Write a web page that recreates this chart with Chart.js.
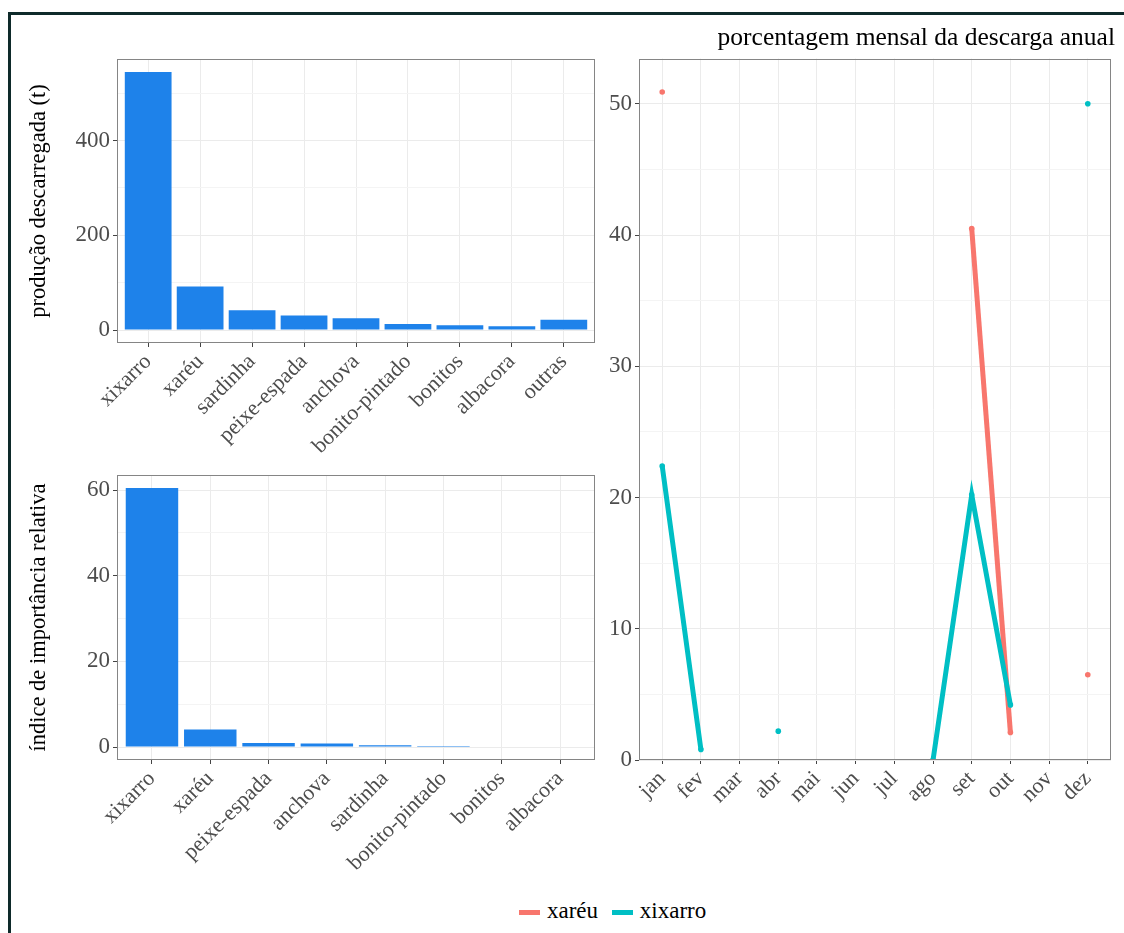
<!DOCTYPE html>
<html>
<head>
<meta charset="utf-8">
<script src="https://cdn.jsdelivr.net/npm/chart.js@4/dist/chart.umd.min.js"></script>
<style>
  body { margin: 0; background: #fff; }
  #page { position: relative; width: 1124px; height: 933px; overflow: hidden; background: #fff; }
  #frame { position: absolute; left: 8px; top: 12px; width: 1200px; height: 1000px;
           border-top: 3px solid #0e2a2a; border-left: 3px solid #0e2a2a; }
  canvas { position: absolute; }
  #legend { position: absolute; left: 519px; top: 897px; font: 23px "Liberation Serif", serif;
            color: #000; white-space: nowrap; line-height: 28px; }
  #legend .key { display: inline-block; width: 21px; height: 5px; vertical-align: middle; margin-right: 7px; }
  #legend .item { margin-right: 8px; }
</style>
</head>
<body>
<div id="page">
  <div id="frame"></div>
  <canvas id="prodChart" width="590" height="410" style="left:10px;top:50px"></canvas>
  <canvas id="indexChart" width="590" height="420" style="left:10px;top:465px"></canvas>
  <canvas id="monthChart" width="515" height="840" style="left:600px;top:20px"></canvas>
  <div id="legend">
    <span class="item"><span class="key" style="background:#F8766D"></span>xaréu</span>
    <span class="item"><span class="key" style="background:#00BFC4"></span>xixarro</span>
  </div>
</div>
<script>
// --- data ---
const prodSpecies = ['xixarro', 'xaréu', 'sardinha', 'peixe-espada', 'anchova', 'bonito-pintado', 'bonitos', 'albacora', 'outras'];
const prodTonnes = [545, 92, 42, 31, 25, 13, 10, 8, 22];
const prodTicks = [0, 200, 400];
const prodMinor = [100, 300, 500];

const indexSpecies = ['xixarro', 'xaréu', 'peixe-espada', 'anchova', 'sardinha', 'bonito-pintado', 'bonitos', 'albacora'];
const indexValues = [60.5, 4.1, 0.95, 0.8, 0.4, 0.25, 0.15, 0.1];
const indexTicks = [0, 20, 40, 60];
const indexMinor = [10, 30, 50];

const months = ['jan', 'fev', 'mar', 'abr', 'mai', 'jun', 'jul', 'ago', 'set', 'out', 'nov', 'dez'];
const xareuPct = [50.9, null, null, null, null, null, null, null, 40.5, 2.1, null, 6.5];
const xixarroPct = [22.4, 0.8, null, 2.2, null, null, null, 0, 20.2, 4.2, null, 50.0];
const pctTicks = [0, 10, 20, 30, 40, 50];
const pctMinor = [5, 15, 25, 35, 45];

const SERIF = '"Liberation Serif", "Times New Roman", serif';
const GRID_MAJOR = '#ebebeb';
const GRID_MINOR = '#f4f4f4';
const TICK_COLOR = '#4d4d4d';

// ggplot-like panel border around the plotting area
const panelBorder = {
  id: 'panelBorder',
  afterDraw(chart) {
    const a = chart.chartArea;
    const ctx = chart.ctx;
    ctx.save();
    ctx.strokeStyle = '#858585';
    ctx.lineWidth = 1;
    ctx.strokeRect(Math.round(a.left) + 0.5, Math.round(a.top) + 0.5,
      Math.round(a.right - a.left) - 1, Math.round(a.bottom - a.top) - 1);
    ctx.restore();
  }
};

function yAxis(major, minor, min, max, width, title) {
  return {
    type: 'linear', min: min, max: max,
    afterBuildTicks: s => { s.ticks = major.concat(minor).sort((a, b) => a - b).map(v => ({ value: v })); },
    afterFit: s => { s.width = width; s.paddingTop = 0; s.paddingBottom = 0; },
    border: { display: false },
    grid: {
      color: c => major.includes(c.tick.value) ? GRID_MAJOR : GRID_MINOR,
      tickColor: c => major.includes(c.tick.value) ? '#444' : 'rgba(0,0,0,0)',
      tickLength: 4, tickWidth: 1
    },
    ticks: {
      padding: 3, color: TICK_COLOR, font: { family: SERIF, size: 23 },
      callback: v => major.includes(v) ? String(v) : ''
    },
    title: title ? { display: true, text: title, color: '#000', padding: { top: 16 },
      font: { family: SERIF, size: 22.5 } } : { display: false }
  };
}

function xAxis(labels, height) {
  return {
    type: 'linear', min: -0.6, max: labels.length - 0.4,
    offset: false,
    afterBuildTicks: s => { s.ticks = labels.map((l, i) => ({ value: i })); },
    afterFit: s => { s.height = height; s.paddingLeft = 0; s.paddingRight = 0; },
    border: { display: false },
    grid: { offset: false, color: GRID_MAJOR, tickColor: '#444', tickLength: 4, tickWidth: 1 },
    ticks: {
      autoSkip: false, minRotation: 45, maxRotation: 45, padding: 2,
      color: TICK_COLOR, font: { family: SERIF, size: 22 },
      callback: v => labels[v] !== undefined ? labels[v] : ''
    }
  };
}

function barChart(id, labels, values, major, minor, width, xHeight, padTop, title) {
  const top = Math.max(...values);
  new Chart(document.getElementById(id), {
    type: 'bar',
    data: {
      datasets: [{
        data: values.map((v, i) => ({ x: i, y: v })),
        backgroundColor: '#1E82EA',
        borderWidth: 0,
        barPercentage: 0.9,
        categoryPercentage: 1
      }]
    },
    options: {
      responsive: false, animation: false,
      layout: { padding: { top: padTop, right: 5, left: 0, bottom: 0 } },
      plugins: { legend: { display: false }, tooltip: { enabled: false } },
      scales: {
        x: xAxis(labels, xHeight),
        y: yAxis(major, minor, -0.05 * top, 1.05 * top, width, title)
      }
    },
    plugins: [panelBorder]
  });
}

barChart('prodChart', prodSpecies, prodTonnes, prodTicks, prodMinor, 107, 117, 9, 'produção descarregada (t)');
barChart('indexChart', indexSpecies, indexValues, indexTicks, indexMinor, 107, 125, 10, 'índice de importância relativa');

function lineSet(label, values, color, order) {
  return {
    label: label,
    data: values.map((v, i) => ({ x: i, y: v })),
    borderColor: color,
    backgroundColor: color,
    borderWidth: 5,
    pointRadius: 2.8,
    pointBorderWidth: 0,
    pointBackgroundColor: color,
    spanGaps: false,
    clip: 0,
    order: order
  };
}

const pctMax = Math.max(...xareuPct.concat(xixarroPct).filter(v => v !== null));

new Chart(document.getElementById('monthChart'), {
  type: 'line',
  data: {
    datasets: [
      lineSet('xaréu', xareuPct, '#F8766D', 1),
      lineSet('xixarro', xixarroPct, '#00BFC4', 0)
    ]
  },
  options: {
    responsive: false, animation: false,
    layout: { padding: 0 },
    plugins: {
      legend: { display: false },
      tooltip: { enabled: false },
      title: {
        display: true, text: 'porcentagem mensal da descarga anual', align: 'end',
        color: '#000', padding: { top: 3, bottom: 5 },
        font: { family: SERIF, size: 25.5, weight: 'normal' }
      }
    },
    scales: {
      x: xAxis(months, 100),
      y: yAxis(pctTicks, pctMinor, 0, 1.05 * pctMax, 39, null)
    }
  },
  plugins: [panelBorder]
});
</script>
</body>
</html>
